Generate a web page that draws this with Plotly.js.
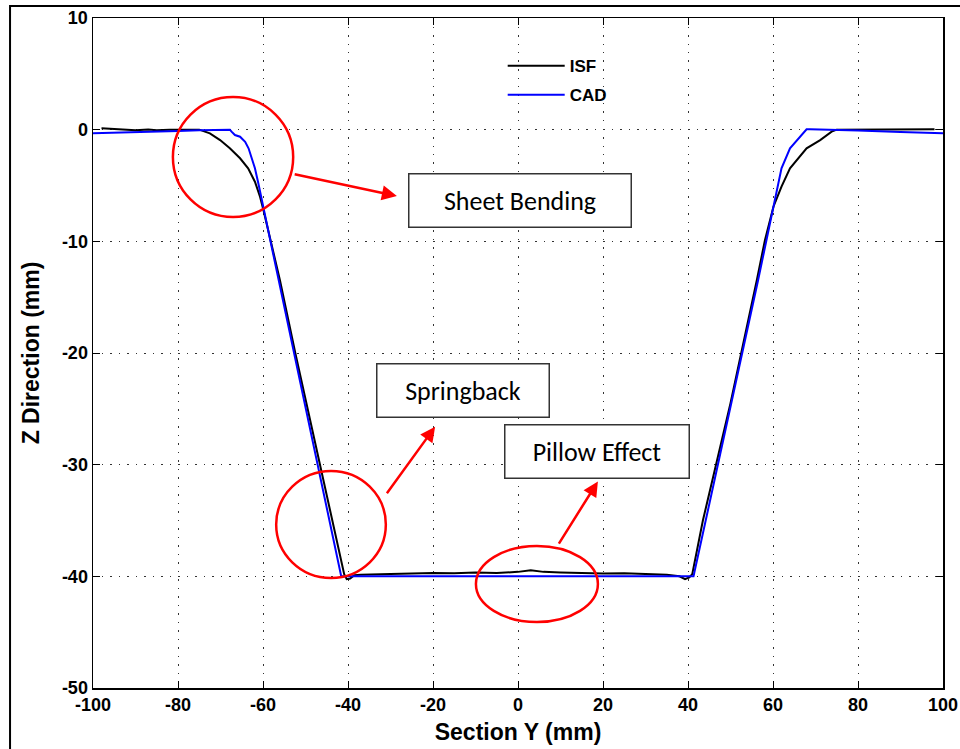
<!DOCTYPE html>
<html>
<head>
<meta charset="utf-8">
<script src="https://cdn.plot.ly/plotly-3.0.1.min.js"></script>
<style>html,body{margin:0;padding:0;background:#fff;}#chart{width:960px;height:749px;}</style>
</head>
<body>
<div id="chart"></div>
<script>
// ISF measured profile
const isfX = [-98, -95, -92, -90, -87, -85, -82, -80, -77, -75, -72.5, -70.1, -67.8, -65.4, -63.5, -61.9, -60.7, -59.9, -56, -52.4, -46.6, -43.8, -41.8, -40.9, -40.3, -39.5, -38.5, -37, -30, -25, -20, -15, -10, -5, 0, 3, 6, 10, 15, 20, 25, 30, 35, 38, 39.3, 40.3, 41, 43.5, 50, 56.2, 58.1, 60.1, 62.0, 64.0, 67.9, 71.1, 73.8, 75, 80, 85, 90, 95, 98];
const isfY = [0.12, 0.05, 0.0, -0.05, 0.02, -0.05, 0.0, -0.02, 0.0, 0.0, -0.33, -0.93, -1.67, -2.56, -3.46, -4.66, -6.0, -7.2, -13.5, -20, -30, -35, -38.5, -39.8, -40.25, -40.2, -39.9, -39.85, -39.8, -39.75, -39.7, -39.72, -39.65, -39.7, -39.6, -39.45, -39.6, -39.65, -39.7, -39.75, -39.72, -39.8, -39.85, -40.0, -40.25, -40.1, -39.8, -35, -24.5, -13.46, -9.9, -6.9, -5.1, -3.46, -1.67, -0.93, -0.18, 0.0, 0.02, 0.0, 0.05, 0.06, 0.03];
// CAD design profile
const cadX = [-100, -90, -80, -75, -70, -67.8, -67.4, -66.6, -65.4, -64.2, -63.4, -62.7, -61.9, -61.1, -60.3, -58.4, -41.6, 41.3, 56.5, 60.1, 61.2, 62.0, 64.0, 67.9, 68.7, 75, 80, 90, 100];
const cadY = [-0.33, -0.25, -0.12, -0.05, 0.0, 0.0, -0.18, -0.48, -0.63, -1.08, -1.67, -2.42, -3.46, -4.8, -6.3, -9.7, -40, -40, -13.46, -6.9, -5.1, -3.46, -1.67, 0.03, 0.03, 0.0, -0.08, -0.2, -0.33];
const xTicks = [-100, -80, -60, -40, -20, 0, 20, 40, 60, 80, 100];
const yTicks = [-50, -40, -30, -20, -10, 0, 10];
const seriesNames = ['ISF', 'CAD'];
const calloutTexts = ['Sheet Bending', 'Springback', 'Pillow Effect'];

const traces = [
  {x: isfX, y: isfY, name: seriesNames[0], legendgroup: 'a', mode: 'lines', line: {color: '#000000', width: 2}},
  {x: cadX, y: cadY, name: seriesNames[1], legendgroup: 'b', mode: 'lines', line: {color: '#0000ff', width: 2}}
];

const red = '#ff0000';
const tickFont = {family: 'Liberation Sans, Arial, sans-serif', size: 18, color: '#000'};
const boxFont = {family: 'Carlito, Open Sans, Liberation Sans, sans-serif', size: 26, color: '#000'};

const layout = {
  width: 960, height: 749,
  margin: {l: 93, r: 17, t: 18, b: 61},
  paper_bgcolor: '#ffffff', plot_bgcolor: '#ffffff',
  showlegend: true,
  legend: {x: 0.482, y: 0.955, xanchor: 'left', yanchor: 'top', bgcolor: 'rgba(0,0,0,0)',
           font: {family: 'Liberation Sans, Arial, sans-serif', size: 17, color: '#000', weight: 'bold'},
           traceorder: 'grouped', tracegroupgap: 4, itemwidth: 57},
  xaxis: {range: [-100, 100], tickvals: xTicks, ticktext: xTicks.map(String),
          ticks: 'inside', ticklen: 7, tickcolor: '#000', showline: true, linecolor: '#000', linewidth: 1.5,
          mirror: 'ticks', showgrid: true, gridcolor: '#333', griddash: '1.5px,7px', gridwidth: 1, zeroline: false,
          tickfont: Object.assign({weight: 'bold'}, tickFont),
          title: {text: 'Section Y (mm)', font: {family: 'Liberation Sans, Arial, sans-serif', size: 23, color: '#000', weight: 'bold'}, standoff: 10}},
  yaxis: {range: [-50, 10], tickvals: yTicks, ticktext: yTicks.map(String),
          ticks: 'inside', ticklen: 7, tickcolor: '#000', showline: true, linecolor: '#000', linewidth: 1.5,
          mirror: 'ticks', showgrid: true, gridcolor: '#333', griddash: '1.5px,7px', gridwidth: 1, zeroline: false,
          tickfont: Object.assign({weight: 'bold'}, tickFont),
          title: {text: 'Z Direction (mm)', font: {family: 'Liberation Sans, Arial, sans-serif', size: 23, color: '#000', weight: 'bold'}, standoff: 16}},
  shapes: [
    {type: 'rect', xref: 'paper', yref: 'paper', x0: -0.0976, x1: 1.03, y0: -0.1, y1: 1.018,
     line: {color: '#000', width: 2}, fillcolor: 'rgba(0,0,0,0)', layer: 'below'},
    {type: 'circle', xref: 'x', yref: 'y', x0: -81.2, x1: -52.9, y0: -7.82, y1: 2.93, line: {color: red, width: 2.5}},
    {type: 'circle', xref: 'x', yref: 'y', x0: -56.9, x1: -31.1, y0: -40.15, y1: -30.57, line: {color: red, width: 2.5}},
    {type: 'circle', xref: 'x', yref: 'y', x0: -9.9, x1: 18.8, y0: -44.09, y1: -37.28, line: {color: red, width: 2.5}}
  ],
  annotations: [
    {x: -28.5, y: -5.94, ax: -52.9, ay: -3.97, xref: 'x', yref: 'y', axref: 'x', ayref: 'y', text: '',
     showarrow: true, arrowhead: 2, arrowsize: 1.2, arrowwidth: 2.5, arrowcolor: red},
    {x: -19.5, y: -26.6, ax: -31.1, ay: -32.7, xref: 'x', yref: 'y', axref: 'x', ayref: 'y', text: '',
     showarrow: true, arrowhead: 2, arrowsize: 1.2, arrowwidth: 2.5, arrowcolor: red},
    {x: 18.8, y: -31.5, ax: 9.4, ay: -37.2, xref: 'x', yref: 'y', axref: 'x', ayref: 'y', text: '',
     showarrow: true, arrowhead: 2, arrowsize: 1.2, arrowwidth: 2.5, arrowcolor: red},
    {x: 0.47, y: -6.3, xref: 'x', yref: 'y', text: calloutTexts[0], showarrow: false, font: boxFont,
     width: 221, height: 52, bgcolor: '#fff', bordercolor: '#333', borderwidth: 1.5, borderpad: 0},
    {x: -12.9, y: -23.4, xref: 'x', yref: 'y', text: calloutTexts[1], showarrow: false, font: boxFont,
     width: 171, height: 52, bgcolor: '#fff', bordercolor: '#333', borderwidth: 1.5, borderpad: 0},
    {x: 18.6, y: -28.8, xref: 'x', yref: 'y', text: calloutTexts[2], showarrow: false, font: boxFont,
     width: 183, height: 52, bgcolor: '#fff', bordercolor: '#333', borderwidth: 1.5, borderpad: 0}
  ]
};

Plotly.newPlot('chart', traces, layout, {displayModeBar: false, staticPlot: true});
</script>
</body>
</html>
